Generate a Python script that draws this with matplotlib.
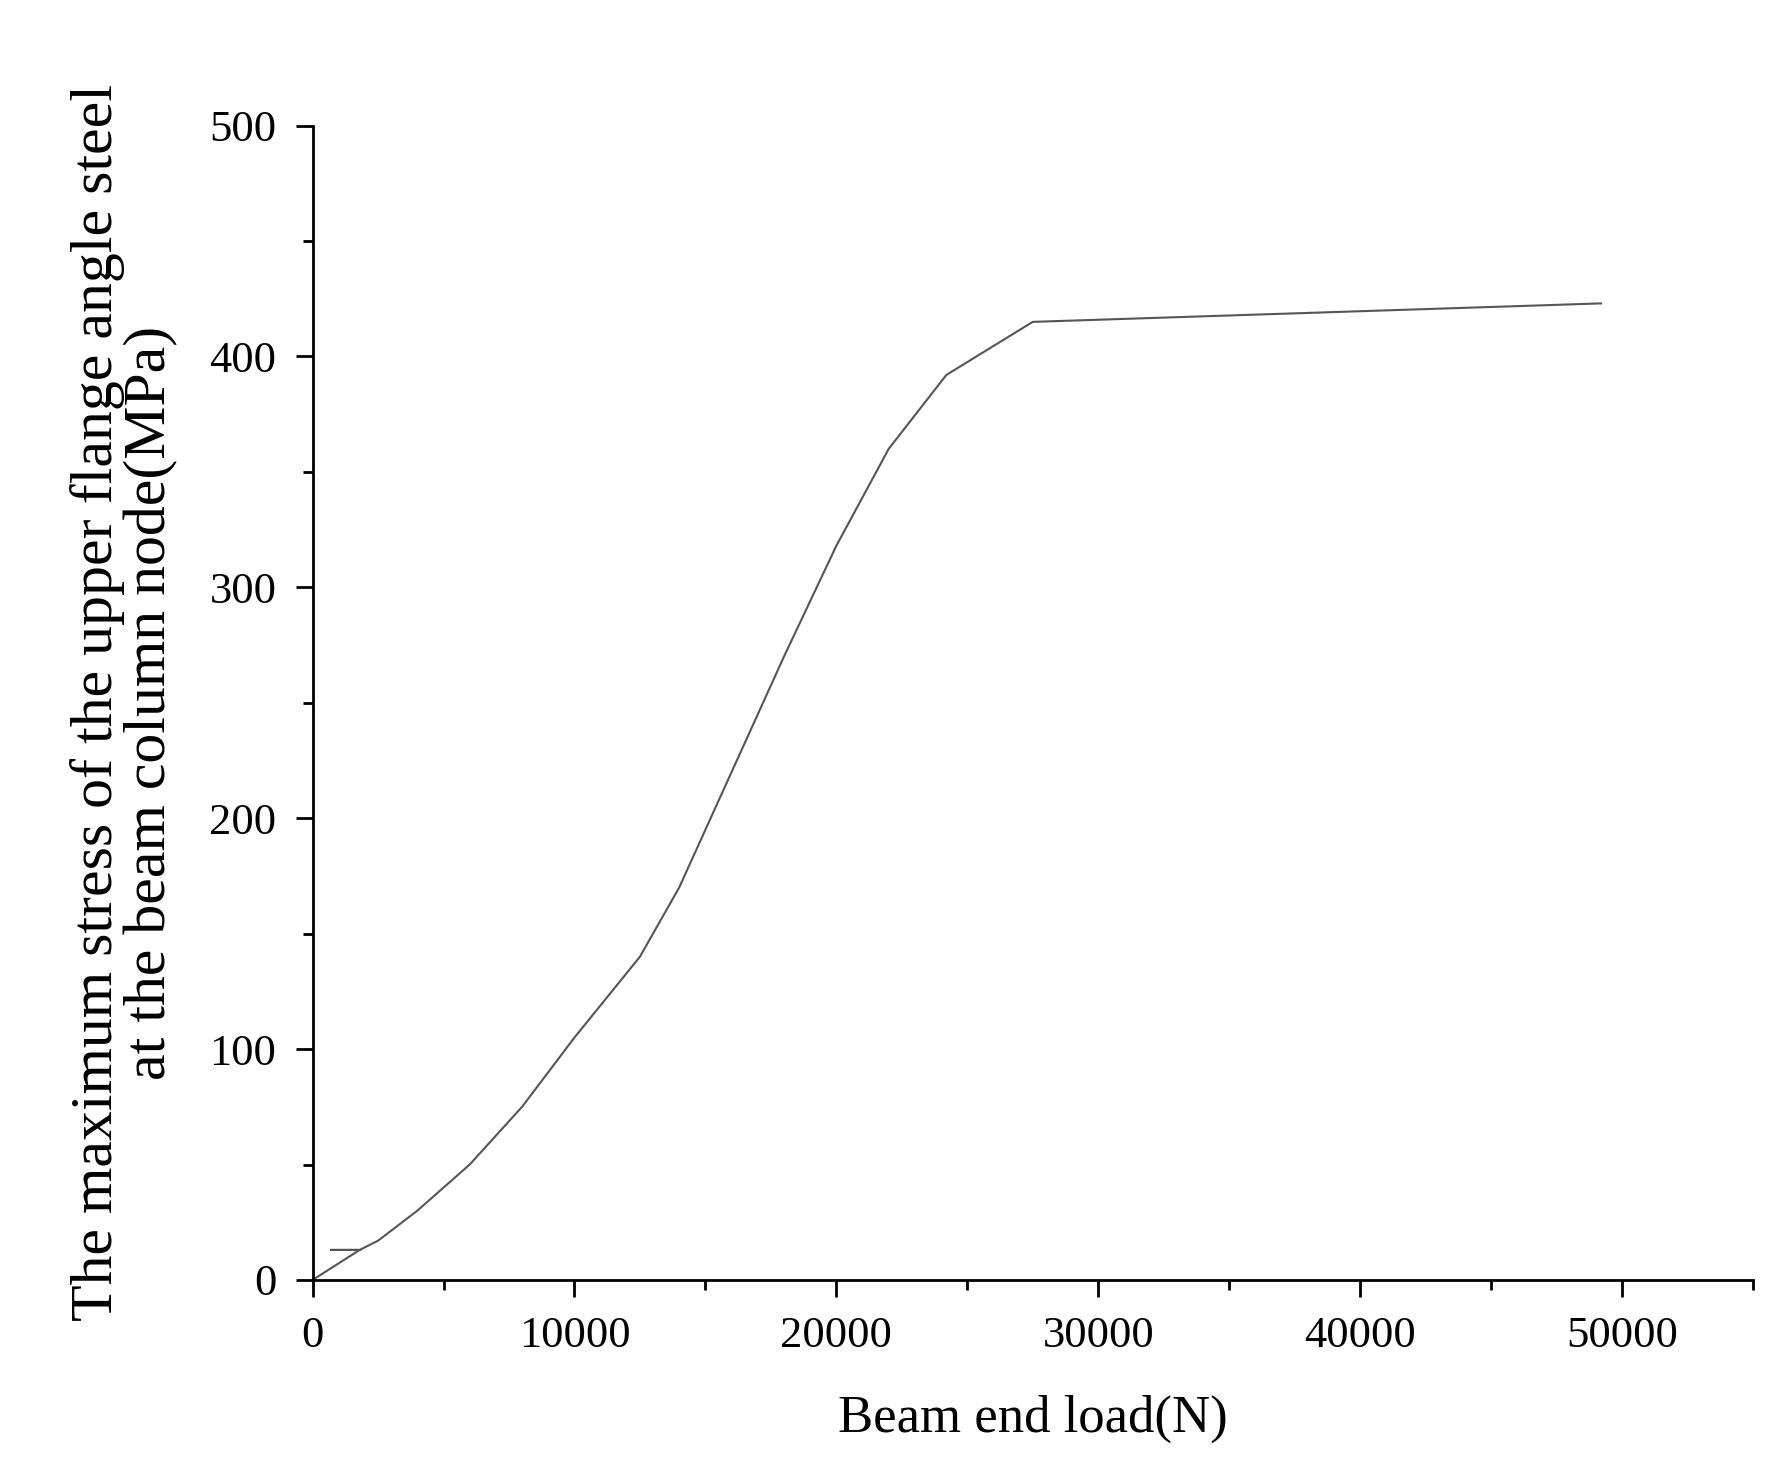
import matplotlib
matplotlib.use("Agg")
import matplotlib.pyplot as plt
from matplotlib.ticker import MultipleLocator

load = [0, 1800, 700, 1800, 2500, 4000, 6000, 8000, 10000, 12500, 14000, 16000, 18000, 20000, 22000, 24200, 27500, 49200]
stress = [0, 13, 13, 13, 17, 30, 50, 75, 105, 140, 170, 220, 270, 318, 360, 392, 415, 423]

plt.rcParams['font.family'] = ['Liberation Serif', 'DejaVu Serif']
fig = plt.figure(figsize=(17.76, 14.78), dpi=100)
ax = fig.add_axes([0.176, 0.134, 0.811, 0.781])
ax.plot(load, stress, color='#555555', lw=1.5)
ax.set_xlim(0, 55000)
ax.set_ylim(0, 500)
ax.spines['top'].set_visible(False)
ax.spines['right'].set_visible(False)
for s in ('left', 'bottom'):
    ax.spines[s].set_linewidth(2)
ax.xaxis.set_major_locator(MultipleLocator(10000))
ax.xaxis.set_minor_locator(MultipleLocator(5000))
ax.yaxis.set_major_locator(MultipleLocator(100))
ax.yaxis.set_minor_locator(MultipleLocator(50))
ax.tick_params(which='major', length=12, width=2, labelsize=32, pad=14)
ax.tick_params(which='minor', length=7, width=2)
ax.set_xlabel('Beam end load(N)', fontsize=38, labelpad=28)
ax.set_ylabel('The maximum stress of the upper flange angle steel\nat the beam column node(MPa)', fontsize=43, labelpad=22, linespacing=1.0)
fig.savefig('out.png', dpi=100)
